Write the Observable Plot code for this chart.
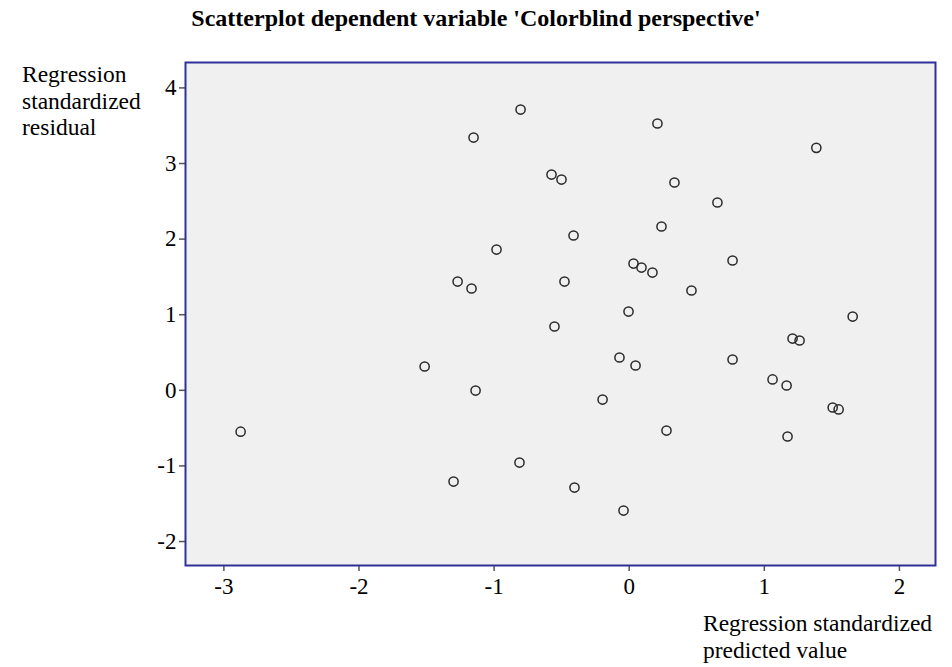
<!DOCTYPE html>
<html>
<head>
<meta charset="utf-8">
<script src="https://cdn.jsdelivr.net/npm/d3@7"></script>
<script src="https://cdn.jsdelivr.net/npm/@observablehq/plot@0.6"></script>
<style>
  html, body { margin: 0; padding: 0; background: #ffffff; }
  #wrap { position: relative; width: 952px; height: 667px; font-family: "Liberation Serif", "Times New Roman", serif; color: #000; }
  #wrap svg { position: absolute; left: 0; top: 0; }
  .lbl { position: absolute; white-space: nowrap; }
  #title { left: 0; width: 952px; top: 4px; text-align: center; font-weight: bold; font-size: 24px; line-height: 28px; }
  #ylab { left: 22px; top: 61px; font-size: 23.5px; line-height: 26.5px; }
  #xlab { left: 703px; top: 610px; font-size: 23.5px; line-height: 26.5px; }
</style>
</head>
<body>
<div id="wrap">
  <div id="title" class="lbl">Scatterplot dependent variable 'Colorblind perspective'</div>
  <div id="ylab" class="lbl">Regression<br>standardized<br>residual</div>
  <div id="xlab" class="lbl">Regression standardized<br>predicted value</div>
</div>
<script>
// Regression standardized predicted values (x) and standardized residuals (y)
const predicted = [
  -2.876, -1.514, -1.137, -1.270, -1.167, -1.152, -0.804, -0.982, -0.575, -0.501,
  -0.412, -0.479, -0.553, -0.812, -1.300, -0.405, -0.042, -0.197, -0.072, 0.047,
  -0.005, 0.032, 0.091, 0.172, 0.209, 0.239, 0.335, 0.461, 0.276, 0.653,
  0.765, 0.765, 1.385, 1.061, 1.165, 1.209, 1.261, 1.654, 1.506, 1.550,
  1.172
];
const residual = [
  -0.547, 0.315, -0.003, 1.439, 1.347, 3.343, 3.714, 1.862, 2.854, 2.788,
  2.048, 1.439, 0.844, -0.955, -1.207, -1.286, -1.590, -0.122, 0.434, 0.328,
  1.042, 1.677, 1.624, 1.558, 3.529, 2.167, 2.749, 1.320, -0.532, 2.484,
  1.717, 0.408, 3.207, 0.144, 0.064, 0.685, 0.659, 0.976, -0.227, -0.253,
  -0.611
];
const xTicks = [-3, -2, -1, 0, 1, 2];
const yTicks = [-2, -1, 0, 1, 2, 3, 4];

const points = predicted.map((p, i) => ({predicted: p, residual: residual[i]}));

const chart = Plot.plot({
  width: 952,
  height: 667,
  marginLeft: 185,
  marginRight: 17,
  marginTop: 62,
  marginBottom: 102,
  style: {fontFamily: "'Liberation Serif', 'Times New Roman', serif", fontSize: "23px", color: "#000", background: "transparent"},
  x: {domain: [-3.284, 2.267]},
  y: {domain: [-2.317, 4.336]},
  marks: [
    Plot.frame({fill: "#f0f0f0"}),
    Plot.axisX({ticks: xTicks, tickFormat: d => String(d), tickSize: 6, tickPadding: 6, stroke: "#555", strokeWidth: 1.5, label: null, fill: "#000"}),
    Plot.axisY({ticks: yTicks, tickFormat: d => String(d), tickSize: 6, tickPadding: 3, stroke: "#555", strokeWidth: 1.5, label: null, fill: "#000"}),
    Plot.dot(points, {x: "predicted", y: "residual", r: 4.6, stroke: "#2a2a2a", strokeWidth: 1.5, fill: "none"}),
    Plot.frame({stroke: "#30309a", strokeWidth: 2})
  ]
});
document.getElementById("wrap").prepend(chart);
</script>
</body>
</html>
